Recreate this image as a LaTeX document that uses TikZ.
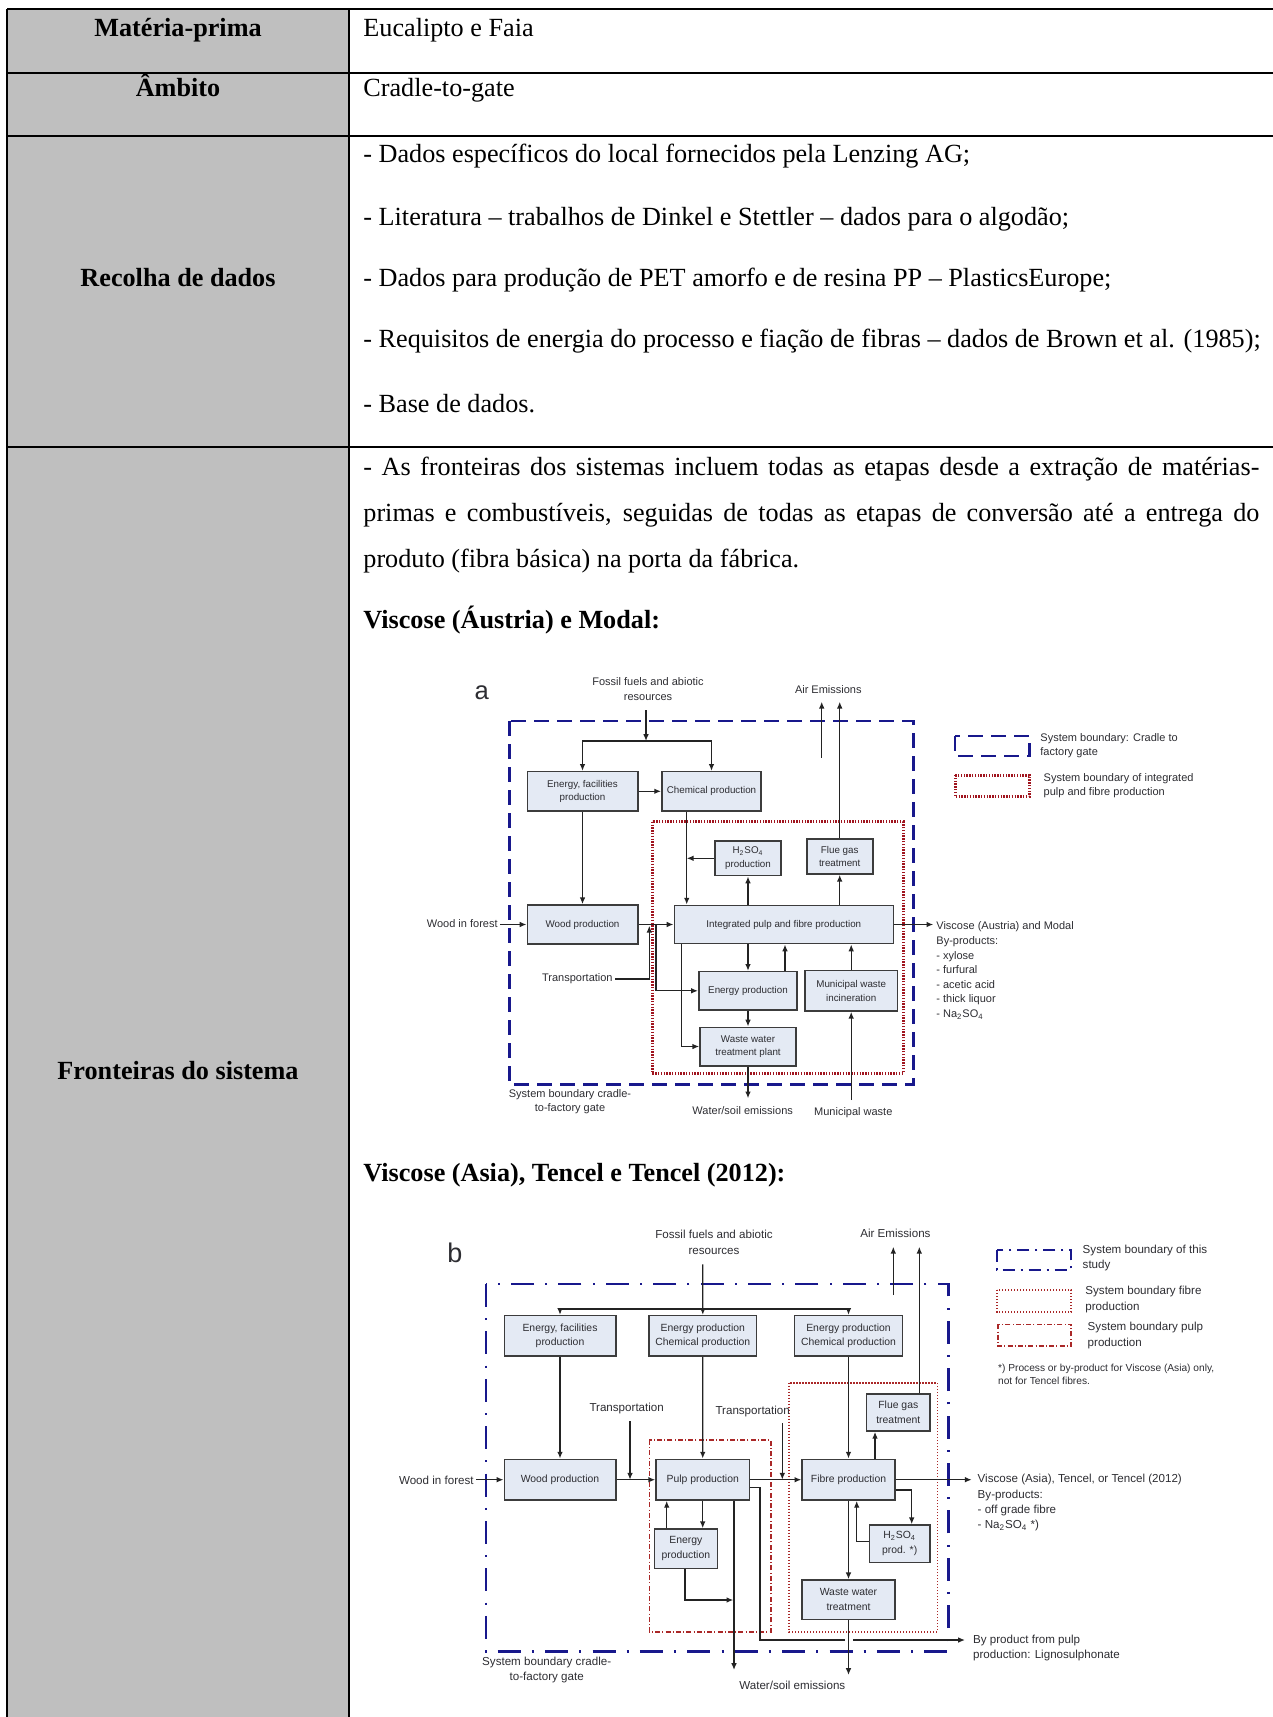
\documentclass[tikz,border=0pt]{standalone}
\usepackage{fontspec}
\setmainfont{Liberation Serif}
\newfontfamily\dsans{Liberation Sans}
\usetikzlibrary{arrows.meta}
\definecolor{cellgray}{RGB}{191,191,191}
\definecolor{boxfill}{RGB}{228,234,244}
\definecolor{boxline}{RGB}{60,60,60}
\definecolor{wire}{RGB}{35,35,35}
\definecolor{diagtext}{RGB}{45,45,50}
\definecolor{navyline}{RGB}{24,24,140}
\definecolor{redline}{RGB}{160,20,30}
\definecolor{redlight}{RGB}{170,40,40}
\begin{document}
\begin{tikzpicture}[x=0.5pt,y=-0.5pt,
  tabtxt/.style={inner sep=0pt,font=\fontsize{13.1}{15}\selectfont},
  tabhead/.style={tabtxt,anchor=base,font=\fontsize{13.1}{15}\selectfont\bfseries},
  tline/.style={line width=1.15pt,draw=black},
  procbox/.style={draw=boxline,fill=boxfill,line width=0.8pt,inner sep=0pt,align=center,
    text=diagtext,font=\dsans\fontsize{4.9}{6.8}\selectfont},
  procboxb/.style={procbox,font=\dsans\fontsize{5.2}{7.4}\selectfont},
  lab/.style={inner sep=1pt,align=center,text=diagtext,font=\dsans\fontsize{5.5}{7.3}\selectfont},
  labl/.style={lab,align=left,anchor=north west,inner sep=0pt},
  labb/.style={inner sep=1pt,align=center,text=diagtext,font=\dsans\fontsize{5.8}{7.7}\selectfont},
  labbl/.style={labb,align=left,anchor=north west,inner sep=0pt},
  arr/.style={draw=wire,line width=0.65pt,-{Latex[length=3.4pt,width=2.8pt]}},
  plain/.style={draw=wire,line width=0.65pt},
  bndA/.style={draw=navyline,line width=1.4pt,dash pattern=on 7.5pt off 4pt},
  dotA/.style={draw=redline,line width=1.5pt,dash pattern=on 0.7pt off 0.7pt},
  bndB/.style={draw=navyline,line width=1.4pt,dash pattern=on 11.5pt off 5.6pt on 1pt off 5.6pt},
  bndBleg/.style={draw=navyline,line width=1pt,dash pattern=on 6pt off 3pt on 1pt off 3pt},
  dotB/.style={draw=redlight,line width=0.8pt,dash pattern=on 0.6pt off 0.9pt},
  dashdotB/.style={draw=redlight,line width=0.8pt,dash pattern=on 2.5pt off 1.1pt on 0.5pt off 1.1pt}
]
\useasboundingbox (0,0) rectangle (1273,1717);

% ---------------- table ----------------
\fill[cellgray] (7,9) rectangle (349,1717);
\draw[tline] (7,9) -- (1273,9);
\draw[tline] (7,73) -- (1273,73);
\draw[tline] (7,136) -- (1273,136);
\draw[tline] (7,447) -- (1273,447);
\draw[tline] (7,9) -- (7,1717);
\draw[tline] (349,9) -- (349,1717);

\node[tabhead] (hRaw) at (178,36.5) {Matéria-prima};
\node[tabhead] (hScope) at (178,97) {Âmbito};
\node[tabhead] (hData) at (178,287) {Recolha de dados};
\node[tabhead] (hBound) at (178,1079.5) {Fronteiras do sistema};

\node[tabtxt,anchor=base west] (tRaw) at (363,36.5) {Eucalipto e Faia};
\node[tabtxt,anchor=base west] (tScope) at (363,97) {Cradle-to-gate};
\node[tabtxt,anchor=base west] (tD1) at (363,163) {- Dados específicos do local fornecidos pela Lenzing AG;};
\node[tabtxt,anchor=base west] (tD2) at (363,226) {- Literatura – trabalhos de Dinkel e Stettler – dados para o algodão;};
\node[tabtxt,anchor=base west] (tD3) at (363,287) {- Dados para produção de PET amorfo e de resina PP – PlasticsEurope;};
\node[tabtxt,anchor=base west] (tD4) at (363,348) {- Requisitos de energia do processo e fiação de fibras – dados de Brown et al. (1985);};
\node[tabtxt,anchor=base west] (tD5) at (363,412) {- Base de dados.};

\node[tabtxt,anchor=base west] (tP1) at (363,475) {\makebox[448pt][s]{- As fronteiras dos sistemas incluem todas as etapas desde a extração de matérias-}};
\node[tabtxt,anchor=base west] (tP2) at (363,521) {\makebox[448pt][s]{primas e combustíveis, seguidas de todas as etapas de conversão até a entrega do}};
\node[tabtxt,anchor=base west] (tP3) at (363,567) {produto (fibra básica) na porta da fábrica.};
\node[tabtxt,anchor=base west,font=\fontsize{13.1}{15}\selectfont\bfseries] (tHa) at (363,628.5) {Viscose (Áustria) e Modal:};
\node[tabtxt,anchor=base west,font=\fontsize{13.1}{15}\selectfont\bfseries] (tHb) at (363,1181) {Viscose (Asia), Tencel e Tencel (2012):};

% ---------------- diagram a ----------------
\draw[bndA] (509.3,721) rectangle (913.3,1084.3);
\draw[dotA] (652,821.7) rectangle (903,1073.3);

\node[lab,font=\dsans\fontsize{12.8}{14}\selectfont] (aTag) at (481.7,693) {a};
\node[lab] (aFossil) at (648,689) {Fossil fuels and abiotic\\resources};
\node[lab] (aAirLab) at (828.3,690) {Air Emissions};

\node[procbox,minimum width=55.2pt,minimum height=19.65pt] (efa) at (582.5,791.3) {Energy, facilities\\production};
\node[procbox,minimum width=49.65pt,minimum height=19.65pt] (chem) at (711.5,791.3) {Chemical production};
\node[procbox,minimum width=33pt,minimum height=17.35pt] (h2so) at (748,858.3) {H\textsubscript{2}SO\textsubscript{4}\\production};
\node[procbox,minimum width=33pt,minimum height=17.5pt] (flue) at (839.7,856.5) {Flue gas\\treatment};
\node[procbox,minimum width=55.2pt,minimum height=19.5pt] (wood) at (582.5,924.5) {Wood production};
\node[procbox,minimum width=109.5pt,minimum height=19.15pt] (integ) at (783.8,924.5) {Integrated pulp and fibre production};
\node[procbox,minimum width=49.2pt,minimum height=19.15pt] (energy) at (748,990.8) {Energy production};
\node[procbox,minimum width=46.15pt,minimum height=20.15pt] (muni) at (851.2,990.8) {Municipal waste\\incineration};
\node[procbox,minimum width=48pt,minimum height=19.2pt] (wwtp) at (748,1046.5) {Waste water\\treatment plant};

\node[lab,anchor=east] (aWif) at (500,923.5) {Wood in forest};
\node[lab,anchor=east] (aTrans) at (615,979) {Transportation};
\node[lab] (aSysLab) at (570,1101.7) {System boundary cradle-\\to-factory gate};
\node[lab] (aWaterLab) at (742.7,1110.7) {Water/soil emissions};
\node[lab] (aMuniLab) at (853.3,1112.3) {Municipal waste};
\node[labl] (aOutLab) at (936,921.5) {Viscose (Austria) and Modal\\By-products:\\- xylose\\- furfural\\- acetic acid\\- thick liquor\\- Na\textsubscript{2}SO\textsubscript{4}};

\coordinate (aFossilTop) at (646,710);
\coordinate (aSplit) at (646,741);
\coordinate (aChemX) at (686.7,0);
\coordinate (aAirTop) at (0,701.7);
\coordinate (aAir1) at (821.7,757.7);
\coordinate (aTrX) at (649.3,0);
\coordinate (aBrX) at (656,0);
\coordinate (aWwX) at (681.7,0);
\coordinate (aEnUpX) at (785,0);
\coordinate (aWater) at (748,1098.3);
\coordinate (aMuniIn) at (851.2,1100);
\coordinate (aOut) at (933.3,0);

\draw[arr] (aFossilTop) -- (aSplit);
\draw[arr] (aSplit) -| (efa.north);
\draw[arr] (aSplit) -| (chem.north);
\draw[arr] (efa.east) -- (chem.west);
\draw[arr] (efa.south) -- (wood.north);
\draw[arr] (chem.south -| aChemX) -- (integ.north -| aChemX);
\draw[arr] (h2so.west) -- (h2so.west -| aChemX);
\draw[arr] (integ.north -| h2so.south) -- (h2so.south);
\draw[arr] (integ.north -| flue.south) -- (flue.south);
\draw[arr] (flue.north) -- (flue.north |- aAirTop);
\draw[arr] (aAir1) -- (aAir1 |- aAirTop);
\draw[arr] (wood.west -| aWif.east) -- (wood.west);
\draw[arr] (wood.east) -- (integ.west);
\draw[arr] (aTrans.east) -- (aTrans.east -| aTrX) -- ([yshift=-0.6pt]wood.east -| aTrX);
\draw[arr] (wood.east -| aBrX) |- (energy.west);
\draw[arr] (integ.south -| aWwX) |- (wwtp.west);
\draw[arr] (integ.south -| energy.north) -- (energy.north);
\draw[arr] (energy.north -| aEnUpX) -- (integ.south -| aEnUpX);
\draw[arr] (muni.north) -- (integ.south -| muni.north);
\draw[arr] (energy.south) -- (wwtp.north);
\draw[arr] (wwtp.south) -- (aWater);
\draw[arr] (aMuniIn) -- (muni.south);
\draw[arr] (integ.east) -- (integ.east -| aOut);

% legend a
\draw[bndA] (955,736) rectangle (1029.3,756);
\node[labl,font=\dsans\fontsize{5.5}{6.9}\selectfont] (aLeg1) at (1040,733) {System boundary: Cradle to\\factory gate};
\draw[dotA] (955,775) rectangle (1029.3,796.7);
\node[labl] (aLeg2) at (1043.3,773) {System boundary of integrated\\pulp and fibre production};

% ---------------- diagram b ----------------
\draw[bndB] (486,1284) rectangle (948.3,1651.5);
\draw[dotB] (789,1382.7) rectangle (937.3,1631.7);
\draw[dashdotB] (649.3,1440) rectangle (770.7,1631.7);

\node[labb,font=\dsans\fontsize{13.5}{15}\selectfont] (bTag) at (455,1253.3) {b};
\node[labb] (bFossil) at (714,1242.2) {Fossil fuels and abiotic\\resources};
\node[labb] (bAirLab) at (895.4,1233.6) {Air Emissions};

\node[procboxb,minimum width=55.7pt,minimum height=20.15pt] (befa) at (560,1335.8) {Energy, facilities\\production};
\node[procboxb,minimum width=53.85pt,minimum height=20.15pt] (bchemA) at (702.8,1335.8) {Energy production\\Chemical production};
\node[procboxb,minimum width=53.85pt,minimum height=20.15pt] (bchemB) at (848.5,1335.8) {Energy production\\Chemical production};
\node[procboxb,minimum width=55.7pt,minimum height=20.35pt] (bwood) at (560,1479.7) {Wood production};
\node[procboxb,minimum width=46.65pt,minimum height=20.35pt] (bpulp) at (702.7,1479.7) {Pulp production};
\node[procboxb,minimum width=46.35pt,minimum height=20.35pt] (bfibre) at (848.5,1479.7) {Fibre production};
\node[procboxb,minimum width=31.65pt,minimum height=18.5pt] (bflue) at (898.3,1412.5) {Flue gas\\treatment};
\node[procboxb,minimum width=30.35pt,minimum height=18.65pt] (bh2so) at (899.7,1543.7) {H\textsubscript{2}SO\textsubscript{4}\\prod. *)};
\node[procboxb,minimum width=31.5pt,minimum height=19.65pt] (benergy) at (685.8,1548.7) {Energy\\production};
\node[procboxb,minimum width=46.35pt,minimum height=19.65pt] (bwwt) at (848.5,1599.7) {Waste water\\treatment};

\node[labb,anchor=east] (bWif) at (476,1480.7) {Wood in forest};
\node[labb] (bTransA) at (626.7,1408.3) {Transportation};
\node[labb] (bTransB) at (752.7,1411) {Transportation};
\node[labb] (bSysLab) at (546.7,1669.7) {System boundary cradle-\\to-factory gate};
\node[labb] (bWaterLab) at (792.3,1685) {Water/soil emissions};
\node[labbl] (bOutLab) at (977.3,1473.8) {Viscose (Asia), Tencel, or Tencel (2012)\\By-products:\\- off grade fibre\\- Na\textsubscript{2}SO\textsubscript{4} *)};
\node[labbl] (bLigLab) at (972.7,1634.5) {By product from pulp\\production: Lignosulphonate};

\coordinate (bFossilTop) at (702.7,1264.3);
\coordinate (bSplitY) at (0,1309);
\coordinate (bTrA) at (630,1421);
\coordinate (bTrB) at (782.3,1423.3);
\coordinate (bFlX) at (875,0);
\coordinate (bFlUpX) at (919.3,0);
\coordinate (bAirTop) at (0,1246.7);
\coordinate (bAir1) at (893.3,1295);
\coordinate (bOut) at (971.7,0);
\coordinate (bH2in) at (911.7,1490);
\coordinate (bH2out) at (856.7,1541.7);
\coordinate (bWater) at (848.5,1675);
\coordinate (bEnUpX) at (666.7,0);
\coordinate (bEnOut) at (685,1600);
\coordinate (bEnTip) at (733.3,1600);
\coordinate (bPulpDn) at (734,1670);
\coordinate (bLgA) at (760,1487.7);
\coordinate (bLgB) at (760,1640);
\coordinate (bGapL) at (845,1640);
\coordinate (bGapR) at (853,1640);
\coordinate (bLgEnd) at (965,1640);

\draw[arr] (bFossilTop) -- (bchemA.north);
\draw[plain] (befa.north |- bSplitY) -- (bchemB.north |- bSplitY);
\draw[arr] (befa.north |- bSplitY) -- (befa.north);
\draw[arr] (bchemB.north |- bSplitY) -- (bchemB.north);
\draw[arr] (befa.south) -- (bwood.north);
\draw[arr] (bchemA.south) -- (bpulp.north);
\draw[arr] (bchemB.south) -- (bfibre.north);
\draw[arr] (bwood.west -| bWif.east) -- (bwood.west);
\draw[arr] (bwood.east) -- (bpulp.west);
\draw[arr] (bTrA) -- (bTrA |- bwood.east);
\draw[arr] (bpulp.east) -- (bfibre.west);
\draw[arr] (bTrB) -- (bTrB |- bpulp.east);
\draw[arr] (bfibre.north -| bFlX) -- (bflue.south -| bFlX);
\draw[arr] (bflue.north -| bFlUpX) -- (bAirTop -| bFlUpX);
\draw[arr] (bAir1) -- (bAir1 |- bAirTop);
\draw[arr] (bfibre.east) -- (bfibre.east -| bOut);
\draw[arr] (bfibre.east |- bH2in) -- (bH2in) -- (bH2in |- bh2so.north);
\draw[arr] (bh2so.west |- bH2out) -- (bH2out) -- (bH2out |- bfibre.south);
\draw[arr] (bfibre.south) -- (bwwt.north);
\draw[arr] (bwwt.south) -- (bWater);
\draw[arr] (benergy.north -| bEnUpX) -- (bpulp.south -| bEnUpX);
\draw[arr] (bpulp.south) -- (bpulp.south |- benergy.north);
\draw[arr] (benergy.south -| bEnOut) |- (bEnTip);
\draw[arr] (bpulp.south -| bPulpDn) -- (bPulpDn);
\draw[plain] (bpulp.east |- bLgA) -- (bLgA) -- (bLgB) -- (bGapL);
\draw[arr] (bGapR) -- (bLgEnd);

% legend b
\draw[bndBleg] (996.7,1250) rectangle (1071,1270);
\node[labbl] (bLeg1) at (1082.3,1244.5) {System boundary of this\\study};
\draw[dotB] (996.7,1290) rectangle (1071,1311.7);
\node[labbl] (bLeg2) at (1085,1286) {System boundary fibre\\production};
\draw[dashdotB] (997.7,1324.3) rectangle (1071,1345.7);
\node[labbl] (bLeg3) at (1087.3,1322) {System boundary pulp\\production};
\node[labbl,font=\dsans\fontsize{5.1}{6.5}\selectfont] (bNote) at (997.7,1363.5) {*) Process or by-product for Viscose (Asia) only,\\not for Tencel fibres.};
\end{tikzpicture}
\end{document}
